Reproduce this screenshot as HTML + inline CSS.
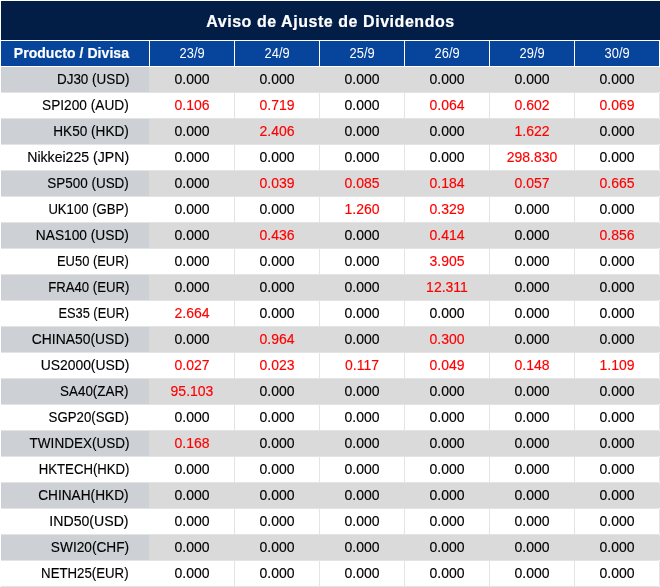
<!DOCTYPE html>
<html><head><meta charset="utf-8"><title>Aviso de Ajuste de Dividendos</title>
<style>
html,body{margin:0;padding:0;background:#fff;}
body{width:660px;height:587px;overflow:hidden;position:relative;font-family:"Liberation Sans",Arial,sans-serif;}
.t{position:absolute;left:1px;top:1px;width:659px;height:39px;background:#031e46;color:#fff;font-weight:bold;font-size:16px;line-height:39px;text-align:center;}
.t span{position:relative;top:1px;letter-spacing:0.55px;-webkit-text-stroke:0.2px #fff;}
.h{position:absolute;top:41px;height:25px;background:#07459c;color:#fff;font-size:14px;line-height:25px;text-align:center;}
.h span{position:relative;top:0px;display:inline-block;}
.h.d span{transform:translateX(0.5px) scaleX(0.92);}
.h.c0{text-align:right;font-weight:bold;-webkit-text-stroke:0.2px #fff;letter-spacing:0.05px;}
.c0 span{margin-right:20px;display:inline-block;transform-origin:100% 50%;}
.r{position:absolute;left:1px;width:659px;height:25px;}
.r.g{background:#dadada;width:659px;}
.c{position:absolute;top:0;height:25px;line-height:25px;font-size:14px;color:#000000;text-align:center;-webkit-text-stroke:0.15px currentColor;}
.c span{position:relative;top:0px;}
.c.c0{text-align:right;}
.g .c{background:#dadada;}
.g .c.c0{background:#cdd0d5;}
.rd{color:#ff0000;}
.ln{position:absolute;left:1px;width:658px;height:1px;background:#e4e4e4;}
.vl{position:absolute;width:1px;height:25px;background:#e4e4e4;top:0;}
</style></head><body>
<div class="t"><span>Aviso de Ajuste de Dividendos</span></div>

<div class="h c0" style="left:1px;width:148px"><span>Producto / Divisa</span></div>
<div class="h c1 d" style="left:150px;width:84px"><span>23/9</span></div>
<div class="h c2 d" style="left:235px;width:84px"><span>24/9</span></div>
<div class="h c3 d" style="left:320px;width:84px"><span>25/9</span></div>
<div class="h c4 d" style="left:405px;width:84px"><span>26/9</span></div>
<div class="h c5 d" style="left:490px;width:84px"><span>29/9</span></div>
<div class="h c6 d" style="left:575px;width:84px"><span>30/9</span></div>
<div class="r g" style="top:67px">
<div class="c c0" style="left:0px;width:148px"><span style="transform:scaleX(0.961)">DJ30 (USD)</span></div>
<div class="c" style="left:149px;width:84px"><span>0.000</span></div>
<div class="c" style="left:234px;width:84px"><span>0.000</span></div>
<div class="c" style="left:319px;width:84px"><span>0.000</span></div>
<div class="c" style="left:404px;width:84px"><span>0.000</span></div>
<div class="c" style="left:489px;width:84px"><span>0.000</span></div>
<div class="c" style="left:574px;width:84px"><span>0.000</span></div>
</div>
<div class="ln" style="top:92px"></div>
<div class="r" style="top:93px">
<div class="c c0" style="left:0px;width:148px"><span style="transform:scaleX(0.977)">SPI200 (AUD)</span></div>
<div class="c rd" style="left:149px;width:84px"><span>0.106</span></div>
<div class="c rd" style="left:234px;width:84px"><span>0.719</span></div>
<div class="vl" style="left:233px"></div>
<div class="c" style="left:319px;width:84px"><span>0.000</span></div>
<div class="vl" style="left:318px"></div>
<div class="c rd" style="left:404px;width:84px"><span>0.064</span></div>
<div class="vl" style="left:403px"></div>
<div class="c rd" style="left:489px;width:84px"><span>0.602</span></div>
<div class="vl" style="left:488px"></div>
<div class="c rd" style="left:574px;width:84px"><span>0.069</span></div>
<div class="vl" style="left:573px"></div>
<div class="vl" style="left:658px"></div>
</div>
<div class="ln" style="top:118px"></div>
<div class="r g" style="top:119px">
<div class="c c0" style="left:0px;width:148px"><span style="transform:scaleX(0.971)">HK50 (HKD)</span></div>
<div class="c" style="left:149px;width:84px"><span>0.000</span></div>
<div class="c rd" style="left:234px;width:84px"><span>2.406</span></div>
<div class="c" style="left:319px;width:84px"><span>0.000</span></div>
<div class="c" style="left:404px;width:84px"><span>0.000</span></div>
<div class="c rd" style="left:489px;width:84px"><span>1.622</span></div>
<div class="c" style="left:574px;width:84px"><span>0.000</span></div>
</div>
<div class="ln" style="top:144px"></div>
<div class="r" style="top:145px">
<div class="c c0" style="left:0px;width:148px"><span style="transform:scaleX(1.008)">Nikkei225 (JPN)</span></div>
<div class="c" style="left:149px;width:84px"><span>0.000</span></div>
<div class="c" style="left:234px;width:84px"><span>0.000</span></div>
<div class="vl" style="left:233px"></div>
<div class="c" style="left:319px;width:84px"><span>0.000</span></div>
<div class="vl" style="left:318px"></div>
<div class="c" style="left:404px;width:84px"><span>0.000</span></div>
<div class="vl" style="left:403px"></div>
<div class="c rd" style="left:489px;width:84px"><span>298.830</span></div>
<div class="vl" style="left:488px"></div>
<div class="c" style="left:574px;width:84px"><span>0.000</span></div>
<div class="vl" style="left:573px"></div>
<div class="vl" style="left:658px"></div>
</div>
<div class="ln" style="top:170px"></div>
<div class="r g" style="top:171px">
<div class="c c0" style="left:0px;width:148px"><span style="transform:scaleX(0.961)">SP500 (USD)</span></div>
<div class="c" style="left:149px;width:84px"><span>0.000</span></div>
<div class="c rd" style="left:234px;width:84px"><span>0.039</span></div>
<div class="c rd" style="left:319px;width:84px"><span>0.085</span></div>
<div class="c rd" style="left:404px;width:84px"><span>0.184</span></div>
<div class="c rd" style="left:489px;width:84px"><span>0.057</span></div>
<div class="c rd" style="left:574px;width:84px"><span>0.665</span></div>
</div>
<div class="ln" style="top:196px"></div>
<div class="r" style="top:197px">
<div class="c c0" style="left:0px;width:148px"><span style="transform:scaleX(0.937)">UK100 (GBP)</span></div>
<div class="c" style="left:149px;width:84px"><span>0.000</span></div>
<div class="c" style="left:234px;width:84px"><span>0.000</span></div>
<div class="vl" style="left:233px"></div>
<div class="c rd" style="left:319px;width:84px"><span>1.260</span></div>
<div class="vl" style="left:318px"></div>
<div class="c rd" style="left:404px;width:84px"><span>0.329</span></div>
<div class="vl" style="left:403px"></div>
<div class="c" style="left:489px;width:84px"><span>0.000</span></div>
<div class="vl" style="left:488px"></div>
<div class="c" style="left:574px;width:84px"><span>0.000</span></div>
<div class="vl" style="left:573px"></div>
<div class="vl" style="left:658px"></div>
</div>
<div class="ln" style="top:222px"></div>
<div class="r g" style="top:223px">
<div class="c c0" style="left:0px;width:148px"><span style="transform:scaleX(0.981)">NAS100 (USD)</span></div>
<div class="c" style="left:149px;width:84px"><span>0.000</span></div>
<div class="c rd" style="left:234px;width:84px"><span>0.436</span></div>
<div class="c" style="left:319px;width:84px"><span>0.000</span></div>
<div class="c rd" style="left:404px;width:84px"><span>0.414</span></div>
<div class="c" style="left:489px;width:84px"><span>0.000</span></div>
<div class="c rd" style="left:574px;width:84px"><span>0.856</span></div>
</div>
<div class="ln" style="top:248px"></div>
<div class="r" style="top:249px">
<div class="c c0" style="left:0px;width:148px"><span style="transform:scaleX(0.923)">EU50 (EUR)</span></div>
<div class="c" style="left:149px;width:84px"><span>0.000</span></div>
<div class="c" style="left:234px;width:84px"><span>0.000</span></div>
<div class="vl" style="left:233px"></div>
<div class="c" style="left:319px;width:84px"><span>0.000</span></div>
<div class="vl" style="left:318px"></div>
<div class="c rd" style="left:404px;width:84px"><span>3.905</span></div>
<div class="vl" style="left:403px"></div>
<div class="c" style="left:489px;width:84px"><span>0.000</span></div>
<div class="vl" style="left:488px"></div>
<div class="c" style="left:574px;width:84px"><span>0.000</span></div>
<div class="vl" style="left:573px"></div>
<div class="vl" style="left:658px"></div>
</div>
<div class="ln" style="top:274px"></div>
<div class="r g" style="top:275px">
<div class="c c0" style="left:0px;width:148px"><span style="transform:scaleX(0.940)">FRA40 (EUR)</span></div>
<div class="c" style="left:149px;width:84px"><span>0.000</span></div>
<div class="c" style="left:234px;width:84px"><span>0.000</span></div>
<div class="c" style="left:319px;width:84px"><span>0.000</span></div>
<div class="c rd" style="left:404px;width:84px"><span>12.311</span></div>
<div class="c" style="left:489px;width:84px"><span>0.000</span></div>
<div class="c" style="left:574px;width:84px"><span>0.000</span></div>
</div>
<div class="ln" style="top:300px"></div>
<div class="r" style="top:301px">
<div class="c c0" style="left:0px;width:148px"><span style="transform:scaleX(0.917)">ES35 (EUR)</span></div>
<div class="c rd" style="left:149px;width:84px"><span>2.664</span></div>
<div class="c" style="left:234px;width:84px"><span>0.000</span></div>
<div class="vl" style="left:233px"></div>
<div class="c" style="left:319px;width:84px"><span>0.000</span></div>
<div class="vl" style="left:318px"></div>
<div class="c" style="left:404px;width:84px"><span>0.000</span></div>
<div class="vl" style="left:403px"></div>
<div class="c" style="left:489px;width:84px"><span>0.000</span></div>
<div class="vl" style="left:488px"></div>
<div class="c" style="left:574px;width:84px"><span>0.000</span></div>
<div class="vl" style="left:573px"></div>
<div class="vl" style="left:658px"></div>
</div>
<div class="ln" style="top:326px"></div>
<div class="r g" style="top:327px">
<div class="c c0" style="left:0px;width:148px"><span style="transform:scaleX(0.992)">CHINA50(USD)</span></div>
<div class="c" style="left:149px;width:84px"><span>0.000</span></div>
<div class="c rd" style="left:234px;width:84px"><span>0.964</span></div>
<div class="c" style="left:319px;width:84px"><span>0.000</span></div>
<div class="c rd" style="left:404px;width:84px"><span>0.300</span></div>
<div class="c" style="left:489px;width:84px"><span>0.000</span></div>
<div class="c" style="left:574px;width:84px"><span>0.000</span></div>
</div>
<div class="ln" style="top:352px"></div>
<div class="r" style="top:353px">
<div class="c c0" style="left:0px;width:148px"><span style="transform:scaleX(0.993)">US2000(USD)</span></div>
<div class="c rd" style="left:149px;width:84px"><span>0.027</span></div>
<div class="c rd" style="left:234px;width:84px"><span>0.023</span></div>
<div class="vl" style="left:233px"></div>
<div class="c rd" style="left:319px;width:84px"><span>0.117</span></div>
<div class="vl" style="left:318px"></div>
<div class="c rd" style="left:404px;width:84px"><span>0.049</span></div>
<div class="vl" style="left:403px"></div>
<div class="c rd" style="left:489px;width:84px"><span>0.148</span></div>
<div class="vl" style="left:488px"></div>
<div class="c rd" style="left:574px;width:84px"><span>1.109</span></div>
<div class="vl" style="left:573px"></div>
<div class="vl" style="left:658px"></div>
</div>
<div class="ln" style="top:378px"></div>
<div class="r g" style="top:379px">
<div class="c c0" style="left:0px;width:148px"><span style="transform:scaleX(0.957)">SA40(ZAR)</span></div>
<div class="c rd" style="left:149px;width:84px"><span>95.103</span></div>
<div class="c" style="left:234px;width:84px"><span>0.000</span></div>
<div class="c" style="left:319px;width:84px"><span>0.000</span></div>
<div class="c" style="left:404px;width:84px"><span>0.000</span></div>
<div class="c" style="left:489px;width:84px"><span>0.000</span></div>
<div class="c" style="left:574px;width:84px"><span>0.000</span></div>
</div>
<div class="ln" style="top:404px"></div>
<div class="r" style="top:405px">
<div class="c c0" style="left:0px;width:148px"><span style="transform:scaleX(0.946)">SGP20(SGD)</span></div>
<div class="c" style="left:149px;width:84px"><span>0.000</span></div>
<div class="c" style="left:234px;width:84px"><span>0.000</span></div>
<div class="vl" style="left:233px"></div>
<div class="c" style="left:319px;width:84px"><span>0.000</span></div>
<div class="vl" style="left:318px"></div>
<div class="c" style="left:404px;width:84px"><span>0.000</span></div>
<div class="vl" style="left:403px"></div>
<div class="c" style="left:489px;width:84px"><span>0.000</span></div>
<div class="vl" style="left:488px"></div>
<div class="c" style="left:574px;width:84px"><span>0.000</span></div>
<div class="vl" style="left:573px"></div>
<div class="vl" style="left:658px"></div>
</div>
<div class="ln" style="top:430px"></div>
<div class="r g" style="top:431px">
<div class="c c0" style="left:0px;width:148px"><span style="transform:scaleX(0.965)">TWINDEX(USD)</span></div>
<div class="c rd" style="left:149px;width:84px"><span>0.168</span></div>
<div class="c" style="left:234px;width:84px"><span>0.000</span></div>
<div class="c" style="left:319px;width:84px"><span>0.000</span></div>
<div class="c" style="left:404px;width:84px"><span>0.000</span></div>
<div class="c" style="left:489px;width:84px"><span>0.000</span></div>
<div class="c" style="left:574px;width:84px"><span>0.000</span></div>
</div>
<div class="ln" style="top:456px"></div>
<div class="r" style="top:457px">
<div class="c c0" style="left:0px;width:148px"><span style="transform:scaleX(0.940)">HKTECH(HKD)</span></div>
<div class="c" style="left:149px;width:84px"><span>0.000</span></div>
<div class="c" style="left:234px;width:84px"><span>0.000</span></div>
<div class="vl" style="left:233px"></div>
<div class="c" style="left:319px;width:84px"><span>0.000</span></div>
<div class="vl" style="left:318px"></div>
<div class="c" style="left:404px;width:84px"><span>0.000</span></div>
<div class="vl" style="left:403px"></div>
<div class="c" style="left:489px;width:84px"><span>0.000</span></div>
<div class="vl" style="left:488px"></div>
<div class="c" style="left:574px;width:84px"><span>0.000</span></div>
<div class="vl" style="left:573px"></div>
<div class="vl" style="left:658px"></div>
</div>
<div class="ln" style="top:482px"></div>
<div class="r g" style="top:483px">
<div class="c c0" style="left:0px;width:148px"><span style="transform:scaleX(0.976)">CHINAH(HKD)</span></div>
<div class="c" style="left:149px;width:84px"><span>0.000</span></div>
<div class="c" style="left:234px;width:84px"><span>0.000</span></div>
<div class="c" style="left:319px;width:84px"><span>0.000</span></div>
<div class="c" style="left:404px;width:84px"><span>0.000</span></div>
<div class="c" style="left:489px;width:84px"><span>0.000</span></div>
<div class="c" style="left:574px;width:84px"><span>0.000</span></div>
</div>
<div class="ln" style="top:508px"></div>
<div class="r" style="top:509px">
<div class="c c0" style="left:0px;width:148px"><span style="transform:scaleX(1.008)">IND50(USD)</span></div>
<div class="c" style="left:149px;width:84px"><span>0.000</span></div>
<div class="c" style="left:234px;width:84px"><span>0.000</span></div>
<div class="vl" style="left:233px"></div>
<div class="c" style="left:319px;width:84px"><span>0.000</span></div>
<div class="vl" style="left:318px"></div>
<div class="c" style="left:404px;width:84px"><span>0.000</span></div>
<div class="vl" style="left:403px"></div>
<div class="c" style="left:489px;width:84px"><span>0.000</span></div>
<div class="vl" style="left:488px"></div>
<div class="c" style="left:574px;width:84px"><span>0.000</span></div>
<div class="vl" style="left:573px"></div>
<div class="vl" style="left:658px"></div>
</div>
<div class="ln" style="top:534px"></div>
<div class="r g" style="top:535px">
<div class="c c0" style="left:0px;width:148px"><span style="transform:scaleX(0.977)">SWI20(CHF)</span></div>
<div class="c" style="left:149px;width:84px"><span>0.000</span></div>
<div class="c" style="left:234px;width:84px"><span>0.000</span></div>
<div class="c" style="left:319px;width:84px"><span>0.000</span></div>
<div class="c" style="left:404px;width:84px"><span>0.000</span></div>
<div class="c" style="left:489px;width:84px"><span>0.000</span></div>
<div class="c" style="left:574px;width:84px"><span>0.000</span></div>
</div>
<div class="ln" style="top:560px"></div>
<div class="r" style="top:561px">
<div class="c c0" style="left:0px;width:148px"><span style="transform:scaleX(0.945)">NETH25(EUR)</span></div>
<div class="c" style="left:149px;width:84px"><span>0.000</span></div>
<div class="c" style="left:234px;width:84px"><span>0.000</span></div>
<div class="vl" style="left:233px"></div>
<div class="c" style="left:319px;width:84px"><span>0.000</span></div>
<div class="vl" style="left:318px"></div>
<div class="c" style="left:404px;width:84px"><span>0.000</span></div>
<div class="vl" style="left:403px"></div>
<div class="c" style="left:489px;width:84px"><span>0.000</span></div>
<div class="vl" style="left:488px"></div>
<div class="c" style="left:574px;width:84px"><span>0.000</span></div>
<div class="vl" style="left:573px"></div>
<div class="vl" style="left:658px"></div>
</div>
<div class="ln" style="top:586px"></div>
</body></html>
